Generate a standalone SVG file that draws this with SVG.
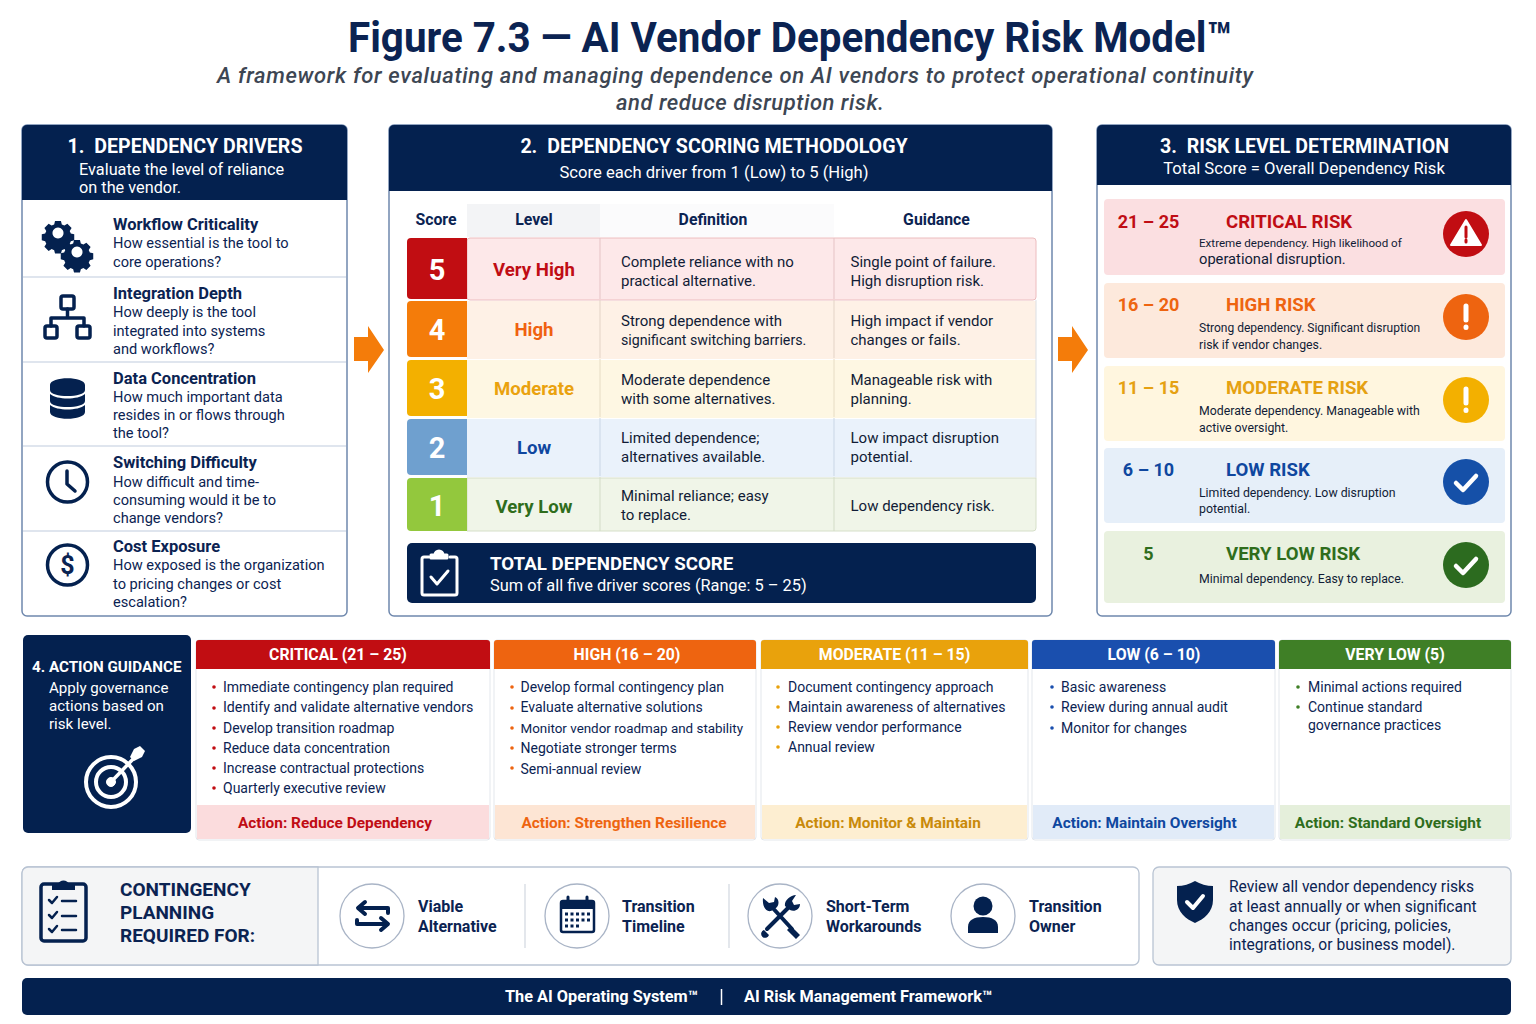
<svg xmlns="http://www.w3.org/2000/svg" width="1536" height="1024" viewBox="0 0 1536 1024">
<style>
text{font-family:Roboto,"Liberation Sans",sans-serif;fill:#0b2352}
.w{fill:#fff}.b{font-weight:700}.m{text-anchor:middle}
.hd{font-size:19.600px;font-weight:700;fill:#fff;text-anchor:middle}
.hs{font-size:16.600px;fill:#fff;text-anchor:middle}
.dt{font-size:16.500px;font-weight:700}
.dd{font-size:14.600px}
.th{font-size:15.800px;font-weight:700;text-anchor:middle}
.sc{font-size:29px;font-weight:700;fill:#fff;text-anchor:middle}
.lv{font-size:18.600px;font-weight:700;text-anchor:middle}
.td{font-size:15px;fill:#111c36}
.rg{font-size:18px;font-weight:700;text-anchor:middle}
.rt{font-size:18.600px;font-weight:700}
.rd{font-size:12.300px;fill:#111c36}
.ah{font-size:15.800px;font-weight:700;fill:#fff;text-anchor:middle}
.li{font-size:14px}
.af{font-size:15.400px;font-weight:700;text-anchor:middle}
.ct{font-size:16px;font-weight:700}
.pan{fill:#fff;stroke:#6f88ad;stroke-width:1.500}
.sep{stroke:#d5dde8;stroke-width:1.500}
.navy{fill:#04214f}
.ico{fill:none;stroke:#04214f;stroke-linecap:round;stroke-linejoin:round}
.circ{fill:#fff;stroke:#a9b4c6;stroke-width:1.300}
</style>
<defs>
<path id="gear" fill="#04214f" fill-rule="evenodd" d="M-3.500-14h7l1 4 3 1.300 3.500-2.200 5 5-2.200 3.500 1.300 3 4 1v7l-4 1-1.300 3 2.200 3.500-5 5-3.500-2.200-3 1.300-1 4h-7l-1-4-3-1.300-3.500 2.200-5-5 2.200-3.500-1.300-3-4-1v-7l4-1 1.300-3-2.200-3.500 5-5 3.500 2.200 3-1.300zM0-6.500a6.500 6.500 0 1 0 .01 0z"/>
<path id="chk" d="M-10 1l7 7 13-14" fill="none" stroke="#fff" stroke-width="4.500" stroke-linecap="round" stroke-linejoin="round"/>
</defs>
<rect width="1536" height="1024" fill="#fff"/>

<g id="title">
<text x="790" y="52" class="m b" style="font-size:42px" textLength="884" lengthAdjust="spacingAndGlyphs">Figure 7.3 — AI Vendor Dependency Risk Model™</text>
<text x="735" y="83" class="m" style="font-size:22px;font-style:italic;fill:#3d4653;font-weight:500" textLength="1036" lengthAdjust="spacing">A framework for evaluating and managing dependence on AI vendors to protect operational continuity</text>
<text x="750" y="110" class="m" style="font-size:22px;font-style:italic;fill:#3d4653;font-weight:500" textLength="268" lengthAdjust="spacing">and reduce disruption risk.</text>
</g>

<g id="panel-1">
<rect class="pan" x="22" y="125" width="325" height="491" rx="5"/>
<path class="navy" d="M22 200V130a5 5 0 0 1 5-5H342a5 5 0 0 1 5 5V200z"/>
<text class="hd" x="185" y="153">1.<tspan dx="5"> DEPENDENCY DRIVERS</tspan></text>
<text x="79" y="175" style="font-size:16.300px;fill:#fff">Evaluate the level of reliance</text>
<text x="79" y="193" style="font-size:16.300px;fill:#fff">on the vendor.</text>
<line class="sep" x1="23" x2="346" y1="277" y2="277"/>
<line class="sep" x1="23" x2="346" y1="362" y2="362"/>
<line class="sep" x1="23" x2="346" y1="446" y2="446"/>
<line class="sep" x1="23" x2="346" y1="531" y2="531"/>
</g>
<g id="driver-workflow">
<use href="#gear" transform="translate(58,233) scale(.85)"/>
<use href="#gear" transform="translate(77,252) scale(.85)"/>
<text class="dt" x="113" y="229.500">Workflow Criticality</text>
<text class="dd" x="113" y="248">How essential is the tool to</text>
<text class="dd" x="113" y="267">core operations?</text>
</g>
<g id="driver-integration">
<g class="ico" stroke-width="3.500"><rect x="61" y="296" width="13" height="13" rx="2"/><rect x="45" y="326" width="12" height="12" rx="2"/><rect x="77" y="326" width="13" height="12" rx="2"/><path d="M67.500 309v9M51 326v-8h33v8"/></g>
<text class="dt" x="113" y="298.500">Integration Depth</text>
<text class="dd" x="113" y="317">How deeply is the tool</text>
<text class="dd" x="113" y="336">integrated into systems</text>
<text class="dd" x="113" y="354">and workflows?</text>
</g>
<g id="driver-data">
<path class="navy" d="M50 385c0-9 35-9 35 0v5c0 8-35 8-35 0zM50 394c7 6 28 6 35 0v7c0 8-35 8-35 0zM50 405c7 6 28 6 35 0v7c0 9-35 9-35 0z"/>
<text class="dt" x="113" y="383.500">Data Concentration</text>
<text class="dd" x="113" y="402">How much important data</text>
<text class="dd" x="113" y="420">resides in or flows through</text>
<text class="dd" x="113" y="438">the tool?</text>
</g>
<g id="driver-switching">
<circle class="ico" cx="67.500" cy="482" r="20" stroke-width="3.500"/><path class="ico" stroke-width="3.500" d="M67 471v13l8 7"/>
<text class="dt" x="113" y="467.500">Switching Difficulty</text>
<text class="dd" x="113" y="487">How difficult and time-</text>
<text class="dd" x="113" y="505">consuming would it be to</text>
<text class="dd" x="113" y="523">change vendors?</text>
</g>
<g id="driver-cost">
<circle class="ico" cx="67.500" cy="565" r="20" stroke-width="3.500"/>
<text x="67.500" y="574" class="m b" style="font-size:25px">$</text>
<text class="dt" x="113" y="551.500">Cost Exposure</text>
<text class="dd" x="113" y="570">How exposed is the organization</text>
<text class="dd" x="113" y="589">to pricing changes or cost</text>
<text class="dd" x="113" y="607">escalation?</text>
</g>

<g id="connectors">
<path d="M354 337h14v-11l16 24-16 23v-12h-14z" fill="#f47c0a"/>
<path d="M1058 337h14v-11l16 24-16 23v-12h-14z" fill="#f47c0a"/>
</g>

<g id="panel-2">
<rect class="pan" x="389" y="125" width="663" height="491" rx="5"/>
<path class="navy" d="M389 191V130a5 5 0 0 1 5-5H1047a5 5 0 0 1 5 5V191z"/>
<text class="hd" x="714" y="153">2.<tspan dx="5"> DEPENDENCY SCORING METHODOLOGY</tspan></text>
<text class="hs" x="714" y="178">Score each driver from 1 (Low) to 5 (High)</text>
<rect x="467" y="204" width="133" height="33" fill="#f3f4f6"/>
<rect x="600" y="204" width="234" height="33" fill="#fbfbfc"/>
<text class="th" x="436" y="224.500">Score</text>
<text class="th" x="534" y="224.500">Level</text>
<text class="th" x="713" y="224.500">Definition</text>
<text class="th" x="936.500" y="224.500">Guidance</text>
</g>
<g id="row-5">
<rect x="467" y="238" width="569" height="62" rx="3" fill="#fde8e9" stroke="#ecbcbe"/>
<path d="M467 238H411a4 4 0 0 0-4 4V295a4 4 0 0 0 4 4H467z" fill="#c10d12"/>
<line x1="600" x2="600" y1="238" y2="299" stroke="#e5c3c5"/><line x1="834" x2="834" y1="238" y2="299" stroke="#e5c3c5"/>
<text class="sc" x="437" y="280">5</text>
<text class="lv" x="534" y="276" style="fill:#c00d14">Very High</text>
<text class="td" x="621" y="267">Complete reliance with no</text><text class="td" x="621" y="286">practical alternative.</text>
<text class="td" x="850.500" y="267">Single point of failure.</text><text class="td" x="850.500" y="286">High disruption risk.</text>
</g>
<g id="row-4">
<rect x="467" y="301" width="569" height="58" fill="#fef1e6"/>
<path d="M467 301H411a4 4 0 0 0-4 4V353a4 4 0 0 0 4 4H467z" fill="#f47c0a"/>
<line x1="600" x2="600" y1="300" y2="358" stroke="#e3d3c6"/><line x1="834" x2="834" y1="300" y2="358" stroke="#e3d3c6"/>
<text class="sc" x="437" y="340">4</text>
<text class="lv" x="534" y="336" style="fill:#f0610f">High</text>
<text class="td" x="621" y="326">Strong dependence with</text><text class="td" x="621" y="345" style="font-size:14.200px">significant switching barriers.</text>
<text class="td" x="850.500" y="326">High impact if vendor</text><text class="td" x="850.500" y="345">changes or fails.</text>
</g>
<g id="row-3">
<rect x="467" y="360" width="569" height="58" fill="#fef7e3"/>
<path d="M467 360H411a4 4 0 0 0-4 4V412a4 4 0 0 0 4 4H467z" fill="#f3b000"/>
<line x1="600" x2="600" y1="359" y2="417" stroke="#e6dcc4"/><line x1="834" x2="834" y1="359" y2="417" stroke="#e6dcc4"/>
<text class="sc" x="437" y="399">3</text>
<text class="lv" x="534" y="395" style="fill:#eaa20e">Moderate</text>
<text class="td" x="621" y="385">Moderate dependence</text><text class="td" x="621" y="404">with some alternatives.</text>
<text class="td" x="850.500" y="385">Manageable risk with</text><text class="td" x="850.500" y="404">planning.</text>
</g>
<g id="row-2">
<rect x="467" y="419" width="569" height="58" fill="#eaf2fb"/>
<path d="M467 419H411a4 4 0 0 0-4 4V471a4 4 0 0 0 4 4H467z" fill="#6fa0cf"/>
<line x1="600" x2="600" y1="418" y2="476" stroke="#c9d6e5"/><line x1="834" x2="834" y1="418" y2="476" stroke="#c9d6e5"/>
<text class="sc" x="437" y="458">2</text>
<text class="lv" x="534" y="454" style="fill:#0f479f">Low</text>
<text class="td" x="621" y="443">Limited dependence;</text><text class="td" x="621" y="462">alternatives available.</text>
<text class="td" x="850.500" y="443">Low impact disruption</text><text class="td" x="850.500" y="462">potential.</text>
</g>
<g id="row-1">
<path d="M467 478H1036V528a3 3 0 0 1-3 3H467z" fill="#f0f5e8" stroke="#d6dfc9"/>
<path d="M467 478H411a4 4 0 0 0-4 4V527a4 4 0 0 0 4 4H467z" fill="#93c83d"/>
<line x1="600" x2="600" y1="477" y2="531" stroke="#d3dcc7"/><line x1="834" x2="834" y1="477" y2="531" stroke="#d3dcc7"/>
<text class="sc" x="437" y="516">1</text>
<text class="lv" x="534" y="513" style="fill:#2f6d1c">Very Low</text>
<text class="td" x="621" y="501">Minimal reliance; easy</text><text class="td" x="621" y="520">to replace.</text>
<text class="td" x="850.500" y="511">Low dependency risk.</text>
<path d="M1036 300V478" stroke="#dcdfe4" stroke-width="1"/>
</g>
<g id="total-score">
<rect class="navy" x="407" y="543" width="629" height="60" rx="5"/>
<g fill="none" stroke="#fff" stroke-width="3" stroke-linecap="round" stroke-linejoin="round"><path d="M429 557h-5a2 2 0 0 0-2 2v34a2 2 0 0 0 2 2h31a2 2 0 0 0 2-2V559a2 2 0 0 0-2-2h-5"/><path d="M431 558v-3h4a4 4 0 0 1 8 0h4v3z" fill="#fff"/><path d="M431 577l6 7 11-13"/></g>
<text x="490" y="570" class="b" style="font-size:18.700px;fill:#fff">TOTAL DEPENDENCY SCORE</text>
<text x="490" y="591" style="font-size:16.400px;fill:#fff">Sum of all five driver scores (Range: 5 – 25)</text>
</g>

<g id="panel-3">
<rect class="pan" x="1097" y="125" width="414" height="491" rx="5"/>
<path class="navy" d="M1097 185V130a5 5 0 0 1 5-5H1506a5 5 0 0 1 5 5V185z"/>
<text class="hd" x="1304.500" y="153">3.<tspan dx="5"> RISK LEVEL DETERMINATION</tspan></text>
<text class="hs" x="1304" y="174">Total Score = Overall Dependency Risk</text>
</g>
<g id="risk-critical">
<rect x="1104" y="199" width="401" height="76" rx="4" fill="#fbdfe1"/>
<text class="rg" x="1148.500" y="228" style="fill:#c00d14">21 – 25</text>
<text class="rt" x="1226" y="228" style="fill:#c00d14">CRITICAL RISK</text>
<text class="rd" x="1199" y="247" style="font-size:11.600px">Extreme dependency. High likelihood of</text>
<text class="rd" x="1199" y="264" style="font-size:14.700px">operational disruption.</text>
<circle cx="1466" cy="234" r="23" fill="#c10d12"/>
<path d="M1466 220l15 25h-30z" fill="#fff" stroke="#fff" stroke-width="2" stroke-linejoin="round"/><path d="M1466 227v10m0 3v2" stroke="#c10d12" stroke-width="3" stroke-linecap="round"/>
</g>
<g id="risk-high">
<rect x="1104" y="283" width="401" height="75" rx="4" fill="#fde9dc"/>
<text class="rg" x="1148.500" y="311" style="fill:#ee6410">16 – 20</text>
<text class="rt" x="1226" y="311" style="fill:#ee6410">HIGH RISK</text>
<text class="rd" x="1199" y="332" style="font-size:12px">Strong dependency. Significant disruption</text>
<text class="rd" x="1199" y="349">risk if vendor changes.</text>
<circle cx="1466" cy="317" r="23" fill="#ee6410"/>
<path d="M1466 306v14m0 7v.5" stroke="#fff" stroke-width="5" stroke-linecap="round"/>
</g>
<g id="risk-moderate">
<rect x="1104" y="366" width="401" height="75" rx="4" fill="#fff6df"/>
<text class="rg" x="1148.500" y="394" style="fill:#e5a112">11 – 15</text>
<text class="rt" x="1226" y="394" style="fill:#e5a112">MODERATE RISK</text>
<text class="rd" x="1199" y="415">Moderate dependency. Manageable with</text>
<text class="rd" x="1199" y="432">active oversight.</text>
<circle cx="1466" cy="400" r="23" fill="#f3b000"/>
<path d="M1466 389v14m0 7v.5" stroke="#fff" stroke-width="5" stroke-linecap="round"/>
</g>
<g id="risk-low">
<rect x="1104" y="448" width="401" height="75" rx="4" fill="#e6eff9"/>
<text class="rg" x="1148.500" y="476" style="fill:#0f479f">6 – 10</text>
<text class="rt" x="1226" y="476" style="fill:#0f479f">LOW RISK</text>
<text class="rd" x="1199" y="497">Limited dependency. Low disruption</text>
<text class="rd" x="1199" y="513">potential.</text>
<circle cx="1466" cy="482" r="23" fill="#1550a8"/>
<use href="#chk" x="1466" y="482"/>
</g>
<g id="risk-very-low">
<rect x="1104" y="531" width="401" height="72" rx="4" fill="#e9f1df"/>
<text class="rg" x="1148.500" y="560" style="fill:#2f6d1c">5</text>
<text class="rt" x="1226" y="560" style="fill:#2f6d1c">VERY LOW RISK</text>
<text class="rd" x="1199" y="583">Minimal dependency. Easy to replace.</text>
<circle cx="1466" cy="565" r="23" fill="#2c6b1f"/>
<use href="#chk" x="1466" y="565"/>
</g>

<g id="action-guidance">
<rect class="navy" x="23" y="635" width="168" height="198" rx="5"/>
<text x="32" y="672" class="b" style="font-size:15.200px;fill:#fff">4. ACTION GUIDANCE</text>
<text x="49" y="693" style="font-size:15.100px;fill:#fff">Apply governance</text>
<text x="49" y="711" style="font-size:15.100px;fill:#fff">actions based on</text>
<text x="49" y="729" style="font-size:15.100px;fill:#fff">risk level.</text>
<g fill="none" stroke="#fff" stroke-linecap="round"><circle cx="111" cy="782" r="25" stroke-width="4"/><circle cx="111" cy="782" r="15" stroke-width="4"/><circle cx="111" cy="782" r="4.500" fill="#fff" stroke-width="1"/><path d="M111 782l25-26" stroke-width="3.500"/></g>
<path d="M130 757l4-8 6-3 5 5-3 6-8 4z" fill="#fff"/>
</g>
<g id="action-critical">
<rect x="196" y="640" width="294" height="200" rx="3" fill="#fff" stroke="#e3e7ec"/>
<path d="M196 669V643a3 3 0 0 1 3-3H487a3 3 0 0 1 3 3V669z" fill="#c10d12"/>
<rect x="197" y="805" width="292" height="34" fill="#fbdcdd"/>
<text class="ah" x="338" y="660">CRITICAL (21 – 25)</text>
<g fill="#c10d12"><circle cx="214" cy="687" r="1.800"/><circle cx="214" cy="708" r="1.800"/><circle cx="214" cy="728" r="1.800"/><circle cx="214" cy="748" r="1.800"/><circle cx="214" cy="768" r="1.800"/><circle cx="214" cy="788" r="1.800"/></g>
<text class="li" x="223" y="692">Immediate contingency plan required</text>
<text class="li" x="223" y="712" style="font-size:14.200px">Identify and validate alternative vendors</text>
<text class="li" x="223" y="733">Develop transition roadmap</text>
<text class="li" x="223" y="753">Reduce data concentration</text>
<text class="li" x="223" y="773">Increase contractual protections</text>
<text class="li" x="223" y="793">Quarterly executive review</text>
<text class="af" x="335" y="827.500" style="fill:#c00d14">Action: Reduce Dependency</text>
</g>
<g id="action-high">
<rect x="494" y="640" width="262" height="200" rx="3" fill="#fff" stroke="#e3e7ec"/>
<path d="M494 669V643a3 3 0 0 1 3-3H753a3 3 0 0 1 3 3V669z" fill="#ee6410"/>
<rect x="495" y="805" width="260" height="34" fill="#fde5d4"/>
<text class="ah" x="627" y="660">HIGH (16 – 20)</text>
<g fill="#ee6410"><circle cx="512" cy="687" r="1.800"/><circle cx="512" cy="708" r="1.800"/><circle cx="512" cy="728" r="1.800"/><circle cx="512" cy="748" r="1.800"/><circle cx="512" cy="768" r="1.800"/></g>
<text class="li" x="520.500" y="692">Develop formal contingency plan</text>
<text class="li" x="520.500" y="712">Evaluate alternative solutions</text>
<text class="li" x="520.500" y="733" style="font-size:13.400px">Monitor vendor roadmap and stability</text>
<text class="li" x="520.500" y="753">Negotiate stronger terms</text>
<text class="li" x="520.500" y="774">Semi-annual review</text>
<text class="af" x="624" y="827.500" style="fill:#ee6410">Action: Strengthen Resilience</text>
</g>
<g id="action-moderate">
<rect x="761" y="640" width="267" height="200" rx="3" fill="#fff" stroke="#e3e7ec"/>
<path d="M761 669V643a3 3 0 0 1 3-3H1025a3 3 0 0 1 3 3V669z" fill="#e9a20c"/>
<rect x="762" y="805" width="265" height="34" fill="#fdeed1"/>
<text class="ah" x="894.500" y="660">MODERATE (11 – 15)</text>
<g fill="#e9a20c"><circle cx="778" cy="687" r="1.800"/><circle cx="778" cy="707" r="1.800"/><circle cx="778" cy="727" r="1.800"/><circle cx="778" cy="747" r="1.800"/></g>
<text class="li" x="788" y="692">Document contingency approach</text>
<text class="li" x="788" y="712">Maintain awareness of alternatives</text>
<text class="li" x="788" y="732">Review vendor performance</text>
<text class="li" x="788" y="752">Annual review</text>
<text class="af" x="888" y="827.500" style="fill:#c98a0a">Action: Monitor &amp; Maintain</text>
</g>
<g id="action-low">
<rect x="1032" y="640" width="243" height="200" rx="3" fill="#fff" stroke="#e3e7ec"/>
<path d="M1032 669V643a3 3 0 0 1 3-3H1272a3 3 0 0 1 3 3V669z" fill="#1a4fae"/>
<rect x="1033" y="805" width="241" height="34" fill="#e1ebf8"/>
<text class="ah" x="1154" y="660">LOW (6 – 10)</text>
<g fill="#1a4fae"><circle cx="1052" cy="687" r="1.800"/><circle cx="1052" cy="707" r="1.800"/><circle cx="1052" cy="728" r="1.800"/></g>
<text class="li" x="1061" y="692">Basic awareness</text>
<text class="li" x="1061" y="712">Review during annual audit</text>
<text class="li" x="1061" y="733">Monitor for changes</text>
<text class="af" x="1144.500" y="827.500" style="fill:#0f479f">Action: Maintain Oversight</text>
</g>
<g id="action-very-low">
<rect x="1279" y="640" width="232" height="200" rx="3" fill="#fff" stroke="#e3e7ec"/>
<path d="M1279 669V643a3 3 0 0 1 3-3H1508a3 3 0 0 1 3 3V669z" fill="#3f7f26"/>
<rect x="1280" y="805" width="230" height="34" fill="#e5efdb"/>
<text class="ah" x="1395" y="660">VERY LOW (5)</text>
<g fill="#3f7f26"><circle cx="1298" cy="687" r="1.800"/><circle cx="1298" cy="707" r="1.800"/></g>
<text class="li" x="1308" y="692">Minimal actions required</text>
<text class="li" x="1308" y="712">Continue standard</text>
<text class="li" x="1308" y="730">governance practices</text>
<text class="af" x="1388" y="827.500" style="fill:#2f6d1c">Action: Standard Oversight</text>
</g>

<g id="contingency">
<rect x="22" y="867" width="1117" height="98" rx="6" fill="#fff" stroke="#b9c4d3" stroke-width="1.300"/>
<path d="M318 867H28a6 6 0 0 0-6 6V959a6 6 0 0 0 6 6H318z" fill="#f4f5f6" stroke="#b9c4d3" stroke-width="1.300"/>
<g class="ico" stroke-width="3.500"><rect x="41" y="884" width="45" height="57" rx="3"/><path d="M49 900l3 3 5-6M49 915l3 3 5-6M49 929l3 3 5-6M62 901h14M62 916h14M62 930h14" stroke-width="2.500"/></g>
<path class="navy" d="M52 890v-6h6a6 6 0 0 1 11 0h6v6H52z"/>
<text x="120" y="896" class="b" style="font-size:19px">CONTINGENCY</text>
<text x="120" y="919" class="b" style="font-size:19px">PLANNING</text>
<text x="120" y="942" class="b" style="font-size:19px">REQUIRED FOR:</text>
</g>
<g id="cp-viable">
<ellipse class="circ" cx="372" cy="916" rx="32" ry="32"/>
<path class="ico" stroke-width="4" d="M388 913v-5H359M365 902l-7 6 7 6M357 920v4h30M381 918l7 6-7 6"/>
<text class="ct" x="418" y="912">Viable</text><text class="ct" x="418" y="932">Alternative</text>
</g>
<line x1="525" x2="525" y1="884" y2="948" stroke="#d5dae2" stroke-width="1.300"/>
<g id="cp-timeline">
<ellipse class="circ" cx="577" cy="916" rx="32" ry="32"/>
<rect x="561" y="901" width="33" height="31" rx="2" fill="#fff" stroke="#04214f" stroke-width="2.500"/>
<path class="navy" d="M561 901h33v8h-33z"/><path class="ico" stroke-width="3" d="M568 897v6M587 897v6"/>
<path stroke="#04214f" stroke-width="3" stroke-dasharray="3 2.500" d="M565 914h25M565 920h25M565 926h14"/>
<text class="ct" x="622" y="912">Transition</text><text class="ct" x="622" y="932">Timeline</text>
</g>
<line x1="729" x2="729" y1="884" y2="948" stroke="#d5dae2" stroke-width="1.300"/>
<g id="cp-workarounds">
<ellipse class="circ" cx="780" cy="916" rx="32" ry="32"/>
<path class="ico" stroke-width="4" d="M770 905l22 24M791 905l-24 24"/>
<path class="navy" d="M763 898l6 5 5-1 1-5c5 2 4 9 1 11l-5 3c-4 1-9-3-8-13zM796 895l-4 6 2 4 6-1c0 6-6 8-10 6l-5-4c-1-5 5-11 11-11zM764 930a4 4 0 1 0 5 5l-5-5zM791 926l9 9-4 4-9-9z"/>
<text class="ct" x="826" y="912">Short-Term</text><text class="ct" x="826" y="932">Workarounds</text>
</g>
<g id="cp-owner">
<ellipse class="circ" cx="983" cy="916" rx="32" ry="32"/>
<circle class="navy" cx="983" cy="906" r="9.500"/><path class="navy" d="M968 933v-6c0-7 6-10 15-10s15 3 15 10v6z"/>
<text class="ct" x="1029" y="912">Transition</text><text class="ct" x="1029" y="932">Owner</text>
</g>
<g id="review-note">
<rect x="1153" y="867" width="358" height="98" rx="6" fill="#f4f5f6" stroke="#b9c4d3" stroke-width="1.300"/>
<path class="navy" d="M1195 881c5 3 12 5 18 5v14c0 12-9 19-18 23-9-4-18-11-18-23v-14c6 0 13-2 18-5z"/>
<path d="M1187 902l6 6 10-12" fill="none" stroke="#fff" stroke-width="4" stroke-linecap="round" stroke-linejoin="round"/>
<text x="1229" y="892" style="font-size:15.600px">Review all vendor dependency risks</text>
<text x="1229" y="912" style="font-size:15.600px">at least annually or when significant</text>
<text x="1229" y="931" style="font-size:15.600px">changes occur (pricing, policies,</text>
<text x="1229" y="950" style="font-size:15.600px">integrations, or business model).</text>
</g>
<g id="footer">
<rect class="navy" x="22" y="978" width="1489" height="37" rx="5"/>
<text x="505" y="1002" class="b" style="font-size:16.300px;fill:#fff">The AI Operating System™</text>
<line x1="721.500" x2="721.500" y1="989" y2="1005" stroke="#fff" stroke-width="1.500"/>
<text x="744" y="1002" class="b" style="font-size:16.300px;fill:#fff">AI Risk Management Framework™</text>
</g>
</svg>
